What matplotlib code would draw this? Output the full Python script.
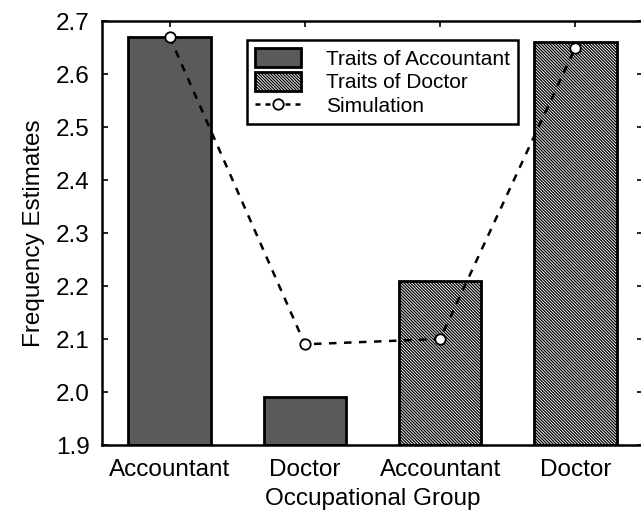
import matplotlib
matplotlib.use("Agg")
import matplotlib.pyplot as plt
from matplotlib.patches import Patch
from matplotlib.lines import Line2D

plt.rcParams['font.family'] = ['Liberation Sans', 'DejaVu Sans']
plt.rcParams['hatch.linewidth'] = 0.9

categories = ["Accountant", "Doctor", "Accountant", "Doctor"]
bar_values = [2.67, 1.99, 2.21, 2.66]
sim_values = [2.67, 2.09, 2.10, 2.65]
y_ticks = [1.9, 2.0, 2.1, 2.2, 2.3, 2.4, 2.5, 2.6, 2.7]

HATCH = "\\" * 11
DARK = "#5a5a5a"

fig = plt.figure(figsize=(6.41, 5.27), dpi=100)
ax = fig.add_axes([102/641, 1-445/527, (643-102)/641, (445-21)/527])

x = list(range(len(categories)))
ybase = 1.9
for i, v in enumerate(bar_values):
    if i < 2:
        ax.bar(i, v - ybase, bottom=ybase, width=0.61, color=DARK,
               edgecolor="black", linewidth=2, zorder=2)
    else:
        ax.bar(i, v - ybase, bottom=ybase, width=0.61, color="white",
               edgecolor="black", linewidth=2, hatch=HATCH, zorder=2)

ax.plot(x, sim_values, linestyle=(0, (3, 3)), color="black", linewidth=1.8,
        marker="o", markersize=7.5, markerfacecolor="white",
        markeredgecolor="black", markeredgewidth=1.3, zorder=3)

ax.set_xlim(-0.5, 3.5)
ax.set_ylim(1.9, 2.7)
ax.set_yticks(y_ticks)
ax.set_yticklabels([f"{t:.1f}" for t in y_ticks])
ax.set_xticks(x)
ax.set_xticklabels(categories)
ax.tick_params(axis="both", direction="in", labelsize=17.5, length=4, width=1.2,
               top=True, right=True)
ax.tick_params(axis="y", pad=9)
ax.tick_params(axis="x", pad=10)
for s in ax.spines.values():
    s.set_linewidth(1.8)

ax.set_ylabel("Frequency Estimates", fontsize=17.5, labelpad=8)
ax.set_xlabel("Occupational Group", fontsize=17.5, labelpad=5)

handles = [
    Patch(facecolor=DARK, edgecolor="black", linewidth=2),
    Patch(facecolor="white", edgecolor="black", linewidth=2, hatch=HATCH),
    Line2D([0], [0], linestyle=(0, (2, 2)), color="black", linewidth=1.8,
           marker="o", markersize=7.5, markerfacecolor="white",
           markeredgecolor="black", markeredgewidth=1.3),
]
labels = ["Traits of Accountant", "Traits of Doctor", "Simulation"]
leg = ax.legend(handles, labels, loc="upper left", bbox_to_anchor=(0.268, 0.955),
                fontsize=15, frameon=True, fancybox=False, edgecolor="black",
                framealpha=1, handlelength=2.2, handleheight=1.0,
                labelspacing=0.15, borderpad=0.4, handletextpad=1.2,
                borderaxespad=0)
leg.get_frame().set_linewidth(1.8)

fig.savefig("out.png", dpi=100)
